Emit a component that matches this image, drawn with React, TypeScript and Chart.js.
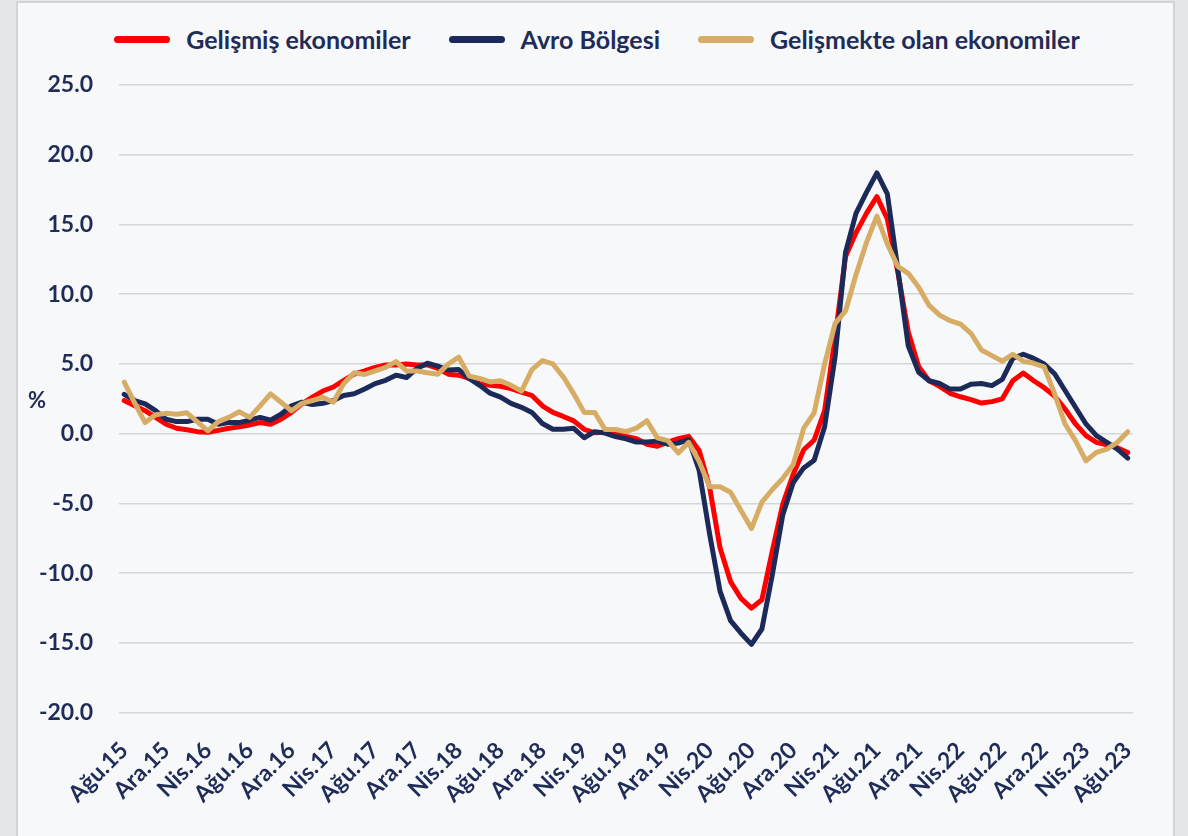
import React, { useEffect, useRef } from 'react';
import { Chart, registerables } from 'chart.js';

Chart.register(...registerables);

const MONTHS = ['Oca', 'Şub', 'Mar', 'Nis', 'May', 'Haz', 'Tem', 'Ağu', 'Eyl', 'Eki', 'Kas', 'Ara'];
const FIRST_MONTH = 7; // Ağu
const FIRST_YEAR = 15;
const MONTH_COUNT = 97;

const categories: string[] = [];
for (let i = 0; i < MONTH_COUNT; i++) {
  const m = (FIRST_MONTH + i) % 12;
  const y = FIRST_YEAR + Math.floor((FIRST_MONTH + i) / 12);
  categories.push(`${MONTHS[m]}.${y}`);
}

const seriesNames = ['Gelişmiş ekonomiler', 'Avro Bölgesi', 'Gelişmekte olan ekonomiler'];
const seriesColors = ['#ff0000', '#1c2a5a', '#d7ad66'];

const advanced = [
  2.38, 2.0, 1.65, 1.17, 0.68, 0.39, 0.29, 0.15, 0.1, 0.24, 0.39, 0.49,
  0.63, 0.8, 0.68, 1.04, 1.53, 2.14, 2.62, 3.06, 3.35, 3.83, 4.27, 4.5,
  4.76, 4.93, 4.93, 5.0, 4.93, 4.93, 4.68, 4.27, 4.2, 3.96, 3.59, 3.47,
  3.4, 3.23, 2.99, 2.74, 2.0, 1.53, 1.24, 0.92, 0.32, 0.07, 0.1, 0.0,
  -0.2, -0.35, -0.75, -0.9, -0.6, -0.36, -0.19, -1.2, -3.85, -8.2, -10.6, -11.8,
  -12.5, -11.9, -8.4, -5.05, -2.9, -1.15, -0.45, 1.65, 6.9, 12.7, 14.4, 15.8,
  17.0, 15.4, 11.6, 7.3, 4.8, 3.8, 3.4, 2.9, 2.65, 2.45, 2.2, 2.3,
  2.5, 3.8, 4.35, 3.8, 3.3, 2.7, 1.77, 0.7, -0.14, -0.62, -0.8, -1.0,
  -1.34,
];

const euroArea = [
  2.82, 2.38, 2.14, 1.65, 1.04, 0.87, 0.87, 1.04, 1.04, 0.68, 0.8, 0.8,
  0.97, 1.17, 0.97, 1.4, 2.0, 2.26, 2.1, 2.18, 2.38, 2.74, 2.86, 3.2,
  3.59, 3.83, 4.2, 4.03, 4.68, 5.05, 4.85, 4.56, 4.6, 3.96, 3.47, 2.91,
  2.62, 2.18, 1.89, 1.53, 0.73, 0.32, 0.32, 0.39, -0.29, 0.15, 0.05, -0.2,
  -0.36, -0.6, -0.6, -0.53, -0.75, -0.67, -0.43, -2.64, -7.2, -11.3, -13.4, -14.3,
  -15.1, -14.0, -10.1, -5.8, -3.5, -2.45, -1.9, 0.5, 5.5, 13.0, 15.8, 17.3,
  18.7, 17.2, 11.8, 6.3, 4.4, 3.8, 3.6, 3.2, 3.2, 3.55, 3.6, 3.45,
  3.9, 5.4, 5.7, 5.4, 5.0, 4.3, 3.1, 1.9, 0.7, -0.14, -0.62, -1.1,
  -1.75,
];

const emerging = [
  3.7, 2.2, 0.8, 1.36, 1.46, 1.4, 1.5, 0.85, 0.2, 0.87, 1.17, 1.58,
  1.17, 2.0, 2.86, 2.26, 1.65, 2.18, 2.38, 2.62, 2.26, 3.6, 4.37, 4.25,
  4.5, 4.76, 5.17, 4.5, 4.5, 4.37, 4.27, 5.0, 5.49, 4.13, 3.96, 3.71,
  3.79, 3.47, 3.06, 4.6, 5.24, 5.0, 4.08, 2.86, 1.53, 1.53, 0.3, 0.3,
  0.15, 0.4, 0.93, -0.3, -0.5, -1.38, -0.62, -2.0, -3.8, -3.8, -4.2, -5.5,
  -6.8, -4.9, -4.0, -3.2, -2.2, 0.4, 1.5, 5.0, 7.9, 8.8, 11.4, 13.7,
  15.6, 13.6, 12.0, 11.5, 10.5, 9.2, 8.5, 8.1, 7.85, 7.2, 6.0, 5.6,
  5.2, 5.7, 5.2, 5.05, 4.8, 2.85, 0.7, -0.5, -1.94, -1.34, -1.1, -0.62,
  0.14,
];

const yTicks = [-20, -15, -10, -5, 0, 5, 10, 15, 20, 25];

const TEXT = '#1f2c57';
const FONT = 'Lato, "Noto Sans", sans-serif';

const CANVAS_LEFT = 18;
const CANVAS_TOP = 2;
const CANVAS_W = 1157;
const CANVAS_H = 834;

const percentPlugin = {
  id: 'percentLabel',
  afterDraw(chart: any) {
    const { ctx, chartArea } = chart;
    ctx.save();
    ctx.font = `bold 22px ${FONT}`;
    ctx.fillStyle = TEXT;
    ctx.textAlign = 'center';
    ctx.textBaseline = 'middle';
    ctx.fillText('%', 19, (chartArea.top + chartArea.bottom) / 2 + 2);
    ctx.restore();
  },
};

export default function App() {
  const canvasRef = useRef<HTMLCanvasElement | null>(null);

  useEffect(() => {
    if (!canvasRef.current) return;
    const allSeries = [advanced, euroArea, emerging];
    const chart = new Chart(canvasRef.current, {
      type: 'line',
      data: {
        labels: categories,
        datasets: allSeries.map((values, k) => ({
          label: seriesNames[k],
          data: values,
          borderColor: seriesColors[k],
          backgroundColor: seriesColors[k],
          borderWidth: 5,
          pointRadius: 0,
          pointHoverRadius: 0,
          tension: 0,
          borderJoinStyle: 'round' as const,
          borderCapStyle: 'round' as const,
          fill: false,
          order: 3 - k,
        })),
      },
      options: {
        responsive: false,
        animation: false,
        events: [],
        layout: { padding: { left: 20, right: 42, top: 83, bottom: 12 } },
        plugins: {
          legend: { display: false },
          tooltip: { enabled: false },
        },
        scales: {
          x: {
            type: 'category',
            offset: true,
            grid: { display: false },
            border: { display: false },
            ticks: {
              autoSkip: false,
              maxRotation: 45,
              minRotation: 45,
              padding: 16,
              color: TEXT,
              font: { family: FONT, size: 23, weight: 'bold' },
              callback: (_v: any, idx: number) => (idx % 4 === 0 ? categories[idx] : null),
            },
          },
          y: {
            min: yTicks[0],
            max: yTicks[yTicks.length - 1],
            afterBuildTicks: (axis: any) => {
              axis.ticks = yTicks.map((v) => ({ value: v }));
            },
            afterFit: (axis: any) => {
              axis.width = 81;
            },
            grid: { color: '#d6d6d6', lineWidth: 1.5, drawTicks: false },
            border: { display: false },
            ticks: {
              padding: 26,
              color: TEXT,
              font: { family: FONT, size: 23, weight: 'bold' },
              callback: (v: any) => Number(v).toFixed(1),
            },
          },
        },
      },
      plugins: [percentPlugin],
    });
    return () => chart.destroy();
  }, []);

  return (
    <div style={{ position: 'fixed', inset: 0, background: '#e5e6e9', overflow: 'hidden' }}>
      <div
        style={{
          position: 'absolute',
          left: 16,
          top: 1,
          width: 1159,
          height: 860,
          background: '#f7f8fa',
          border: '2px solid #d2d4d8',
          boxSizing: 'border-box',
        }}
      />
      <div
        style={{
          position: 'absolute',
          left: 3,
          top: 25,
          width: 1188,
          height: 28,
          display: 'flex',
          justifyContent: 'center',
          alignItems: 'center',
          fontFamily: FONT,
          fontWeight: 'bold',
          fontSize: 25,
          color: TEXT,
          whiteSpace: 'nowrap',
        }}
      >
        {seriesNames.map((name, k) => (
          <div key={name} style={{ display: 'flex', alignItems: 'center', marginLeft: k === 0 ? 0 : 38 }}>
            <span
              style={{
                display: 'inline-block',
                width: 56,
                height: 7,
                borderRadius: 4,
                background: seriesColors[k],
                marginRight: 16,
              }}
            />
            <span>{name}</span>
          </div>
        ))}
      </div>
      <canvas
        ref={canvasRef}
        width={CANVAS_W}
        height={CANVAS_H}
        style={{ position: 'absolute', left: CANVAS_LEFT, top: CANVAS_TOP, width: CANVAS_W, height: CANVAS_H }}
      />
    </div>
  );
}
